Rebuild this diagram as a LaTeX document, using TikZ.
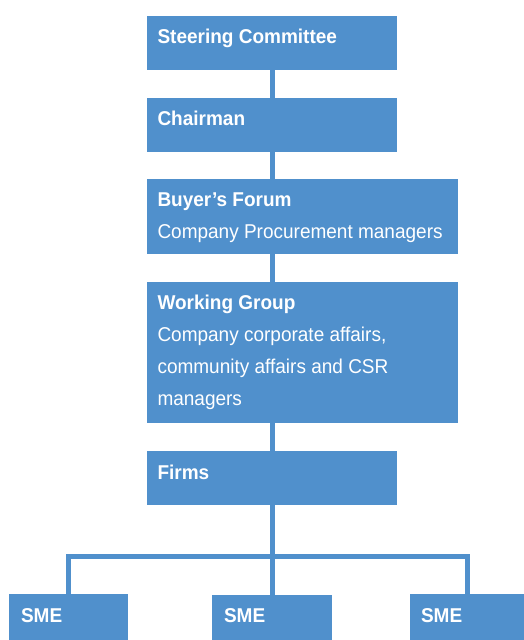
\documentclass[tikz,border=0pt]{standalone}
\usepackage{fontspec}
\setmainfont{Liberation Sans}[FakeStretch=0.95]
\definecolor{boxblue}{RGB}{80,144,204}
\begin{document}
\begin{tikzpicture}[x=1pt,y=-1pt,
  box/.style={fill=boxblue,draw=none,inner sep=0pt,outer sep=0pt,anchor=north west},
  txt/.style={text=white,inner sep=0pt,outer sep=0pt,anchor=base west,align=left,
    font=\fontsize{20}{32}\selectfont},
  conn/.style={draw=boxblue,line width=5pt,line join=miter}]
\useasboundingbox (0,0) rectangle (524,640);
% boxes
\node[box,minimum width=250pt,minimum height=54pt] (sc) at (147,16) {};
\node[box,minimum width=250pt,minimum height=54pt] (ch) at (147,98) {};
\node[box,minimum width=311pt,minimum height=75pt] (bf) at (147,179) {};
\node[box,minimum width=311pt,minimum height=141pt] (wg) at (147,282) {};
\node[box,minimum width=250pt,minimum height=54pt] (fi) at (147,451) {};
\node[box,minimum width=119pt,minimum height=46pt] (s1) at (9,594) {};
\node[box,minimum width=120pt,minimum height=45pt] (s2) at (212,595) {};
\node[box,minimum width=114pt,minimum height=46pt] (s3) at (410,594) {};
% connectors
\coordinate (br) at (272,556);
\draw[conn] (sc.south) -- (ch.north);
\draw[conn] (ch.south) -- (ch.south |- bf.north);
\draw[conn] (ch.south |- bf.south) -- (ch.south |- wg.north);
\draw[conn] (ch.south |- wg.south) -- (fi.north);
\draw[conn] (fi.south) -- (s2.north);
\draw[conn] (s1.north) |- (br) -| (s3.north);
% texts (base anchor = baseline of the last line)
\node[txt] (tsc) at ([xshift=10.5pt,yshift=-27pt]sc.north west) {\bfseries Steering Committee};
\node[txt] (tch) at ([xshift=10.5pt,yshift=-27pt]ch.north west) {\bfseries Chairman};
\node[txt] (tbf) at ([xshift=10.5pt,yshift=-59pt]bf.north west) {\textbf{Buyer’s Forum}\\Company Procurement managers};
\node[txt] (twg) at ([xshift=10.5pt,yshift=-123pt]wg.north west) {\textbf{Working Group}\\Company corporate affairs,\\community affairs and CSR\\managers};
\node[txt] (tfi) at ([xshift=10.5pt,yshift=-28pt]fi.north west) {\bfseries Firms};
\node[txt] (ts1) at ([xshift=12pt,yshift=-28pt]s1.north west) {\bfseries SME};
\node[txt] (ts2) at ([xshift=12pt,yshift=-27pt]s2.north west) {\bfseries SME};
\node[txt] (ts3) at ([xshift=11pt,yshift=-28pt]s3.north west) {\bfseries SME};
\end{tikzpicture}
\end{document}
